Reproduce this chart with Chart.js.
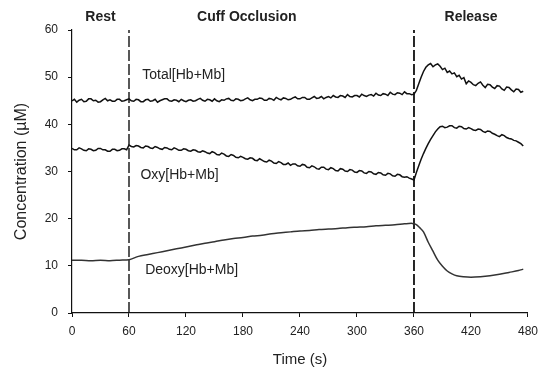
<!DOCTYPE html>
<html>
<head>
<meta charset="utf-8">
<script src="https://cdn.jsdelivr.net/npm/chart.js@4.4.0/dist/chart.umd.min.js"></script>
<style>
html,body{margin:0;padding:0;background:#fff;}
#c{display:block;}
</style>
</head>
<body>
<canvas id="c" width="545" height="374"></canvas>
<script>
// ---- data ----
const sampleStepSeconds = 2.5; // Total and Oxy are sampled every 2.5 s from t = 0 to 475 s
const totalHbMb = [
  45.0,45.3,44.7,45.1,45.3,44.8,44.9,45.4,45.4,45.0,45.1,44.7,44.8,45.2,45.5,45.0,45.2,44.9,44.9,45.3,45.3,44.9,45.0,45.2,
  45.4,45.0,44.9,45.3,45.2,44.8,44.8,45.2,45.3,44.9,45.0,45.3,44.7,45.0,45.2,45.4,45.4,45.0,44.9,45.2,45.1,44.8,45.3,45.0,
  44.8,45.1,45.2,44.9,45.0,45.3,45.5,45.1,44.9,45.3,45.2,44.9,45.4,45.0,44.8,45.2,45.1,45.4,45.5,45.1,45.0,45.4,45.3,45.0,
  45.1,45.4,45.6,45.2,45.0,45.3,45.3,45.6,45.5,45.1,45.1,45.5,45.4,45.1,45.7,45.4,45.2,45.6,45.5,45.2,45.3,45.6,45.8,45.4,
  45.4,45.7,45.7,45.3,45.3,45.6,45.9,45.5,45.6,45.9,45.4,45.7,45.9,45.6,46.1,45.8,45.7,46.1,46.0,45.7,46.3,45.9,45.8,46.1,
  46.1,45.8,46.4,46.1,45.9,46.2,46.3,46.0,46.6,46.2,46.1,46.5,46.4,46.1,46.8,46.4,46.3,46.7,46.6,46.3,46.9,46.5,46.5,46.3,
  46.4,47.2,48.6,50.0,51.2,52.1,52.6,52.9,52.2,52.6,52.8,52.3,51.6,51.9,51.0,51.3,50.7,50.9,50.1,50.4,49.6,49.9,48.6,49.2,
  48.9,48.4,48.2,48.7,49.0,48.3,47.8,48.5,48.4,47.9,47.6,48.2,48.1,47.5,47.2,47.9,47.8,47.3,46.9,47.5,47.4,46.8,47.0
];
const oxyHbMb = [
  34.9,34.6,34.6,35.0,34.8,34.5,34.4,34.8,34.7,34.4,34.5,34.9,34.9,34.6,34.6,34.3,34.3,34.7,34.7,34.4,34.5,34.8,34.8,34.6,
  35.6,35.3,35.2,35.5,35.4,35.1,35.0,35.4,35.3,35.0,34.9,35.3,35.1,34.8,34.7,35.1,35.0,34.7,34.6,35.0,34.8,34.5,34.5,34.8,
  34.7,34.4,34.3,34.6,34.5,34.2,34.1,34.4,34.2,33.9,33.8,34.2,34.0,33.6,33.5,33.9,33.7,33.3,33.2,33.6,33.4,33.0,32.9,33.2,
  33.0,32.7,32.6,32.9,32.8,32.4,32.3,32.7,32.4,32.1,32.0,32.4,32.2,31.8,31.7,32.1,31.9,31.5,31.5,31.8,31.3,31.6,31.6,31.2,
  31.1,31.5,31.4,30.9,30.8,31.2,31.0,30.6,30.5,30.9,30.9,30.5,30.4,30.8,30.6,30.2,30.1,30.6,30.5,30.1,30.0,30.4,30.3,29.9,
  29.8,30.2,30.1,29.7,29.6,30.0,29.9,29.5,29.4,29.8,29.7,29.3,29.2,29.6,29.5,29.1,29.0,29.4,29.3,28.9,28.8,28.9,28.6,28.4,
  28.2,29.8,31.2,32.6,33.8,34.9,35.9,36.8,37.6,38.4,39.0,39.5,39.6,39.3,39.4,39.7,39.7,39.3,39.2,39.6,39.5,39.1,39.0,39.3,
  39.1,38.8,38.7,39.0,38.9,38.5,38.3,38.6,38.5,38.1,37.9,37.6,37.4,37.8,37.6,37.2,37.0,36.9,36.6,36.5,36.2,35.9,35.4
];
const deoxyTime = [
  0,10,20,30,40,50,60,70,80,90,100,110,120,130,140,150,160,170,180,190,
  200,210,220,230,240,250,260,270,280,290,300,310,320,330,340,350,358,
  362,366,370,375,380,385,390,395,400,405,412,420,430,440,450,460,470,475
];
const deoxyHbMb = [
  11.2,11.2,11.1,11.2,11.1,11.2,11.3,12.0,12.4,12.8,13.2,13.6,14.0,14.4,14.8,15.1,15.5,15.8,16.0,16.3,
  16.5,16.8,17.0,17.2,17.4,17.5,17.7,17.8,17.9,18.1,18.2,18.3,18.5,18.6,18.7,18.9,19.0,
  18.8,18.1,17.2,15.0,13.1,11.2,9.9,8.9,8.3,7.9,7.7,7.6,7.7,7.9,8.2,8.6,9.0,9.3
];
const markerTimes = [60, 360];
const phaseNames = ['Rest', 'Cuff Occlusion', 'Release'];
const phaseAt = [30, 184, 420];
const seriesNames = ['Total[Hb+Mb]', 'Oxy[Hb+Mb]', 'Deoxy[Hb+Mb]'];
const seriesLabelAt = [[74, 50.5], [72, 29.2], [77, 9.1]];
const xTickValues = [0, 60, 120, 180, 240, 300, 360, 420, 480];
const yTickValues = [0, 10, 20, 30, 40, 50, 60];

// ---- build ----
const sampled = ys => ys.map((y, i) => ({x: i * sampleStepSeconds, y: y}));
const pts = (xs, ys) => xs.map((x, i) => ({x: x, y: ys[i]}));
const FONT = "'Liberation Sans', Arial, Helvetica, sans-serif";
const TXT = '#222';

const datasets = [
  {data: sampled(totalHbMb), borderColor: '#111', borderWidth: 1.5},
  {data: sampled(oxyHbMb), borderColor: '#111', borderWidth: 1.5},
  {data: pts(deoxyTime, deoxyHbMb), borderColor: '#333', borderWidth: 1.5, tension: 0.3}
];
markerTimes.forEach((t, i) => {
  datasets.push({
    data: [{x: t, y: 0}, {x: t, y: 60}],
    borderColor: '#111', borderWidth: i === 1 ? 1.8 : 1.4, borderDash: [11, 3]
  });
});
datasets.forEach(d => { d.pointRadius = 0; d.fill = false; });

const textPlugin = {
  id: 'texts',
  afterDraw(chart) {
    const ctx = chart.ctx, xs = chart.scales.x, ys = chart.scales.y;
    ctx.save();
    ctx.fillStyle = TXT;
    ctx.font = 'bold 14px ' + FONT;
    ctx.textAlign = 'center';
    ctx.textBaseline = 'middle';
    phaseNames.forEach((n, i) => {
      ctx.fillText(n, xs.getPixelForValue(phaseAt[i]), chart.chartArea.top - 13);
    });
    ctx.font = '14px ' + FONT;
    ctx.textAlign = 'left';
    seriesNames.forEach((n, i) => {
      ctx.fillText(n, xs.getPixelForValue(seriesLabelAt[i][0]), ys.getPixelForValue(seriesLabelAt[i][1]));
    });
    ctx.restore();
  }
};

new Chart(document.getElementById('c'), {
  type: 'line',
  data: {datasets: datasets},
  plugins: [textPlugin],
  options: {
    responsive: false,
    animation: false,
    devicePixelRatio: 1,
    layout: {padding: {top: 30, right: 17, left: 0, bottom: 0}},
    plugins: {legend: {display: false}, tooltip: {enabled: false}},
    scales: {
      x: {
        type: 'linear', min: 0, max: 480,
        afterBuildTicks: s => { s.ticks = xTickValues.map(v => ({value: v})); },
        afterFit: s => { s.height = 61; },
        grid: {drawOnChartArea: false, drawTicks: true, tickLength: 4, color: '#111'},
        border: {display: true, color: '#111', width: 1.2},
        ticks: {color: TXT, font: {family: FONT, size: 12}, padding: 7, maxRotation: 0},
        title: {display: true, text: 'Time (s)', color: TXT, font: {family: FONT, size: 15}, padding: {top: 0, bottom: 5}}
      },
      y: {
        type: 'linear', min: 0, max: 60,
        afterBuildTicks: s => { s.ticks = yTickValues.map(v => ({value: v})); },
        afterFit: s => { s.width = 72; },
        grid: {drawOnChartArea: false, drawTicks: true, tickLength: 4, color: '#111'},
        border: {display: true, color: '#111', width: 1.2},
        ticks: {color: TXT, font: {family: FONT, size: 12}, padding: 10},
        title: {display: true, text: 'Concentration (µM)', color: TXT, font: {family: FONT, size: 16}, padding: {top: 12, bottom: 0}}
      }
    }
  }
});
</script>
</body>
</html>
